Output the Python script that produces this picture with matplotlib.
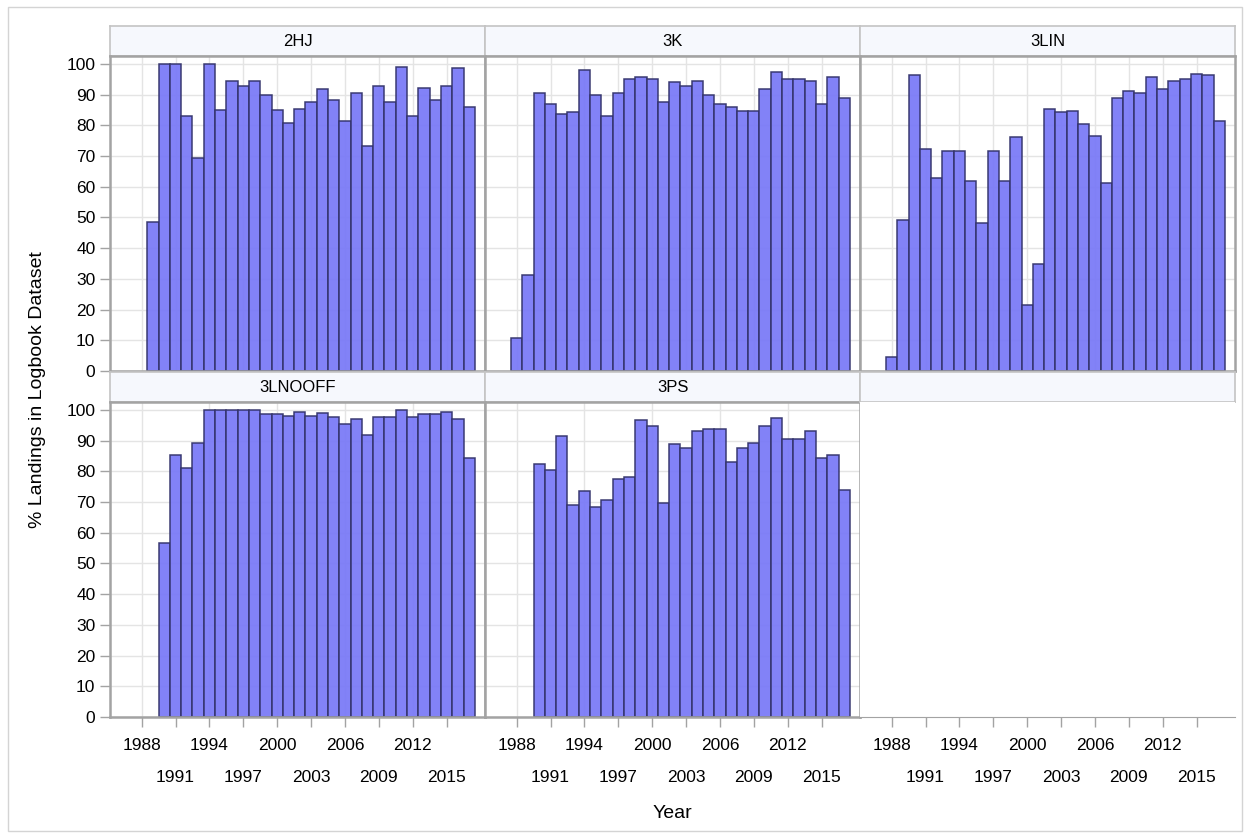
"""Share of landings captured in the logbook dataset, by NAFO division."""

import matplotlib.pyplot as plt
from matplotlib.patches import Rectangle

FIG_W, FIG_H = 1250, 839

regions = ["2HJ", "3K", "3LIN", "3LNOOFF", "3PS"]
first_years = [1989, 1988, 1988, 1990, 1990]

pct_2hj = [48.5, 100, 100, 83.0, 69.3, 100, 84.9, 94.5, 92.8, 94.5, 89.9,
           84.9, 80.7, 85.4, 87.7, 91.7, 88.3, 81.4, 90.6, 73.3, 92.8, 87.7,
           99.1, 83.0, 92.2, 88.3, 92.8, 98.6, 86.0]
pct_3k = [10.7, 31.3, 90.6, 87.1, 83.6, 84.2, 98.0, 89.9, 83.0, 90.6, 95.1,
          95.7, 95.1, 87.7, 94.0, 92.8, 94.5, 89.9, 87.1, 85.9, 84.8, 84.8,
          91.7, 97.4, 95.1, 95.1, 94.5, 87.1, 95.7, 88.8]
pct_3lin = [4.5, 49.1, 96.4, 72.3, 63.0, 71.5, 71.5, 61.8, 48.1, 71.5, 61.8,
            76.2, 21.5, 34.8, 85.4, 84.3, 84.8, 80.6, 76.7, 61.2, 88.8, 91.1,
            90.6, 95.6, 91.7, 94.5, 95.1, 96.8, 96.4, 81.4]
pct_3lnooff = [56.8, 85.2, 81.0, 89.1, 100, 100, 100, 100, 100, 98.8, 98.8,
               98.2, 99.5, 98.2, 98.9, 97.7, 95.4, 97.1, 92.0, 97.7, 97.7, 100,
               97.7, 98.8, 98.8, 99.5, 97.1, 84.5]
pct_3ps = [82.3, 80.5, 91.5, 69.0, 73.6, 68.4, 70.8, 77.6, 78.2, 96.6, 94.9,
           69.7, 88.8, 87.5, 93.2, 93.7, 93.7, 82.9, 87.7, 89.3, 94.9, 97.3,
           90.4, 90.4, 93.2, 84.5, 85.2, 74.1]
series = [pct_2hj, pct_3k, pct_3lin, pct_3lnooff, pct_3ps]

year_ticks = list(range(1988, 2016, 3))
pct_ticks = list(range(0, 101, 10))

BAR_FILL = "#7b7bf7"
BAR_EDGE = "#33336b"
FRAME = "#a3a3a3"
GRID = "#e4e4e4"
HEADER_BG = "#f6f8fd"

plt.rcParams["font.family"] = ["Liberation Sans", "DejaVu Sans"]
plt.rcParams["font.size"] = 12.5


def box(x0, y0, x1, y1):
    """Axes rectangle given in pixel coordinates measured from the top left."""
    return [x0 / FIG_W, 1 - y1 / FIG_H, (x1 - x0) / FIG_W, (y1 - y0) / FIG_H]


fig = plt.figure(figsize=(FIG_W / 100, FIG_H / 100), dpi=100)
fig.patches.append(Rectangle((8 / FIG_W, 8 / FIG_H), 1 - 16 / FIG_W, 1 - 15 / FIG_H,
                             transform=fig.transFigure, fill=False,
                             edgecolor="#d4d4d4", linewidth=1))

col_x = [110, 485, 860]
row_y = [(26, 56, 371), (372, 402, 717)]

for cell in range(6):
    row, col = divmod(cell, 3)
    x0, x1 = col_x[col], col_x[col] + 375
    head_top, plot_top, plot_bottom = row_y[row]

    head = fig.add_axes(box(x0, head_top, x1, plot_top))
    head.set_facecolor(HEADER_BG)
    head.set_xticks([])
    head.set_yticks([])
    for spine in head.spines.values():
        spine.set_color("#c4c4c4")
        spine.set_linewidth(1.2)
    if cell < len(regions):
        head.text(0.5, 0.5, regions[cell], ha="center", va="center",
                  transform=head.transAxes, fontsize=12)

    ax = fig.add_axes(box(x0, plot_top, x1, plot_bottom))
    ax.set_xlim(1985.2, 2018.4)
    ax.set_ylim(0, 102.6)
    ax.set_axisbelow(True)

    if cell < len(regions):
        years = range(first_years[cell], first_years[cell] + len(series[cell]))
        ax.bar(years, series[cell], width=1.0, color=BAR_FILL,
               edgecolor=BAR_EDGE, linewidth=1.1, alpha=0.95)
        ax.set_xticks(year_ticks)
        ax.set_yticks(pct_ticks)
        ax.grid(True, color=GRID, linewidth=1)
        for spine in ax.spines.values():
            spine.set_color(FRAME)
            spine.set_linewidth(1.8)
    else:
        # Empty facet: keep only the year axis along the bottom.
        for side in ("top", "right", "left"):
            ax.spines[side].set_visible(False)
        ax.spines["bottom"].set_color(FRAME)
        ax.set_yticks([])

    ax.tick_params(axis="both", length=7, color=FRAME, width=1)

    if col == 0:
        ax.set_yticklabels([str(v) for v in pct_ticks])
    else:
        ax.tick_params(axis="y", left=False, labelleft=False)

    # Bottom row gets staggered year labels: every other tick drops a line.
    if row == 1:
        upper = year_ticks[0::2]
        lower = year_ticks[1::2]
        ax.set_xticks(upper, [str(y) for y in upper])
        ax.set_xticks(lower, [str(y) for y in lower], minor=True)
        ax.tick_params(axis="x", which="major", pad=8)
        ax.tick_params(axis="x", which="minor", length=7, color=FRAME,
                       width=1, pad=31)
    else:
        ax.tick_params(axis="x", bottom=False, labelbottom=False)

fig.text(38 / FIG_W, 1 - 390 / FIG_H, "% Landings in Logbook Dataset",
         rotation=90, ha="center", va="center", fontsize=14)
fig.text(672 / FIG_W, 1 - 813 / FIG_H, "Year", ha="center", va="center",
         fontsize=14)

fig.savefig("out.png", dpi=100)
